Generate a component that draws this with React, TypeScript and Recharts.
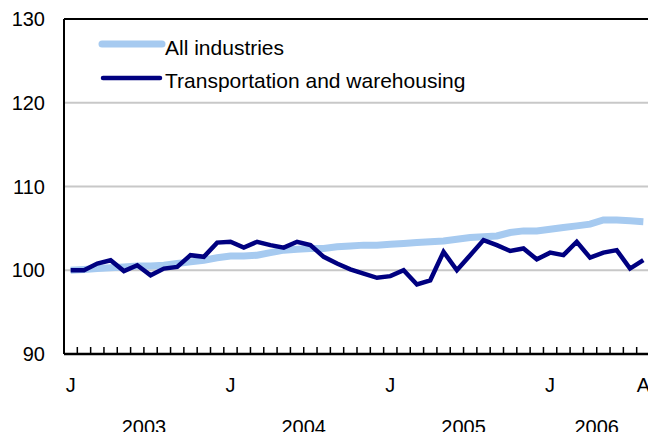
import React from 'react';
import { LineChart, Line, XAxis, YAxis, CartesianGrid, ReferenceLine } from 'recharts';

// Monthly index, Jan 2003 (0) .. Aug 2006 (43)
const allIndustries = [
  100.0, 100.1, 100.2, 100.3, 100.4, 100.5, 100.5, 100.6, 100.8, 101.0, 101.2, 101.5,
  101.7, 101.7, 101.8, 102.1, 102.4, 102.5, 102.6, 102.6, 102.8, 102.9, 103.0, 103.0,
  103.1, 103.2, 103.3, 103.4, 103.5, 103.7, 103.9, 104.0, 104.1, 104.5, 104.7, 104.7,
  104.9, 105.1, 105.3, 105.5, 106.0, 106.0, 105.9, 105.8,
];
const transportation = [
  100.0, 100.0, 100.8, 101.2, 99.9, 100.6, 99.4, 100.2, 100.4, 101.8, 101.6, 103.3,
  103.4, 102.7, 103.4, 103.0, 102.7, 103.4, 103.0, 101.6, 100.8, 100.1, 99.6, 99.1,
  99.3, 100.0, 98.3, 98.8, 102.2, 100.0, 101.8, 103.6, 103.0, 102.3, 102.6, 101.3,
  102.1, 101.8, 103.4, 101.5, 102.1, 102.4, 100.2, 101.2,
];
const monthLabelIdx = [0, 12, 24, 36, 43];
const monthLabels = ['J', 'J', 'J', 'J', 'A'];
const yearLabelPos = [5.5, 17.5, 29.5, 39.5];
const yearLabels = ['2003', '2004', '2005', '2006'];
const yTicks = [90, 100, 110, 120, 130];
const seriesNames = ['All industries', 'Transportation and warehousing'];
const seriesColors = ['#a6caf0', '#000080'];

const data = allIndustries.map((v, i) => ({ idx: i, all: v, trans: transportation[i] }));
const boundaryTicks = Array.from({ length: allIndustries.length + 1 }, (_, i) => i - 0.5);
const xTicks = [...boundaryTicks, ...monthLabelIdx].sort((a, b) => a - b);
const xDomain: [number, number] = [-0.5, allIndustries.length - 0.5];

const FONT = '"Liberation Sans", Arial, sans-serif';
const tickStyle = { fill: '#000', fontSize: 20, fontFamily: FONT };

const XTick = (props: any) => {
  const { x, y, payload } = props;
  const v: number = payload.value;
  const isBoundary = Math.abs(v % 1) > 0.01;
  if (isBoundary) {
    const yi = yearLabelPos.indexOf(v);
    return (
      <g>
        <line x1={x} x2={x} y1={y} y2={y - 7} stroke="#000" strokeWidth={1.5} />
        {yi >= 0 && (
          <text x={x} y={y + 80} textAnchor="middle" fontSize={20} fontFamily={FONT} fill="#000">
            {yearLabels[yi]}
          </text>
        )}
      </g>
    );
  }
  const mi = monthLabelIdx.indexOf(v);
  if (mi < 0) return <g />;
  return (
    <text x={x} y={y + 38} textAnchor="middle" fontSize={20} fontFamily={FONT} fill="#000">
      {monthLabels[mi]}
    </text>
  );
};

export default function App() {
  return (
    <div style={{ position: 'absolute', left: 0, top: 0, width: 648, height: 432, overflow: 'hidden', background: '#fff' }}>
      <LineChart width={660} height={440} data={data} margin={{ top: 19, right: 10, left: 0, bottom: 4 }}>
        <CartesianGrid vertical={false} stroke="#c8c8c8" strokeWidth={2} />
        <XAxis
          dataKey="idx"
          type="number"
          domain={xDomain}
          allowDataOverflow
          ticks={xTicks}
          interval={0}
          tickLine={false}
          tickSize={0}
          tickMargin={0}
          tick={<XTick />}
          axisLine={{ stroke: '#000', strokeWidth: 2.5 }}
          height={82}
        />
        <YAxis
          domain={[90, 130]}
          ticks={yTicks}
          interval={0}
          width={64}
          tickLine={false}
          tickSize={0}
          tickMargin={19}
          axisLine={{ stroke: '#000', strokeWidth: 2 }}
          tick={tickStyle}
        />
        <ReferenceLine y={130} stroke="#000" strokeWidth={2} />
        <Line
          type="linear"
          dataKey="all"
          name={seriesNames[0]}
          stroke={seriesColors[0]}
          strokeWidth={7}
          dot={false}
          isAnimationActive={false}
        />
        <Line
          type="linear"
          dataKey="trans"
          name={seriesNames[1]}
          stroke={seriesColors[1]}
          strokeWidth={4.5}
          dot={false}
          isAnimationActive={false}
        />
      </LineChart>
      <svg width={648} height={100} style={{ position: 'absolute', left: 0, top: 0, pointerEvents: 'none' }}>
        <line x1={102} x2={162} y1={44} y2={44} stroke={seriesColors[0]} strokeWidth={7} strokeLinecap="round" />
        <text x={165} y={55} fontSize={21} fontFamily={FONT} fill="#000">{seriesNames[0]}</text>
        <line x1={103} x2={160} y1={78} y2={78} stroke={seriesColors[1]} strokeWidth={4.5} strokeLinecap="round" />
        <text x={165} y={88} fontSize={21} fontFamily={FONT} fill="#000">{seriesNames[1]}</text>
      </svg>
    </div>
  );
}
